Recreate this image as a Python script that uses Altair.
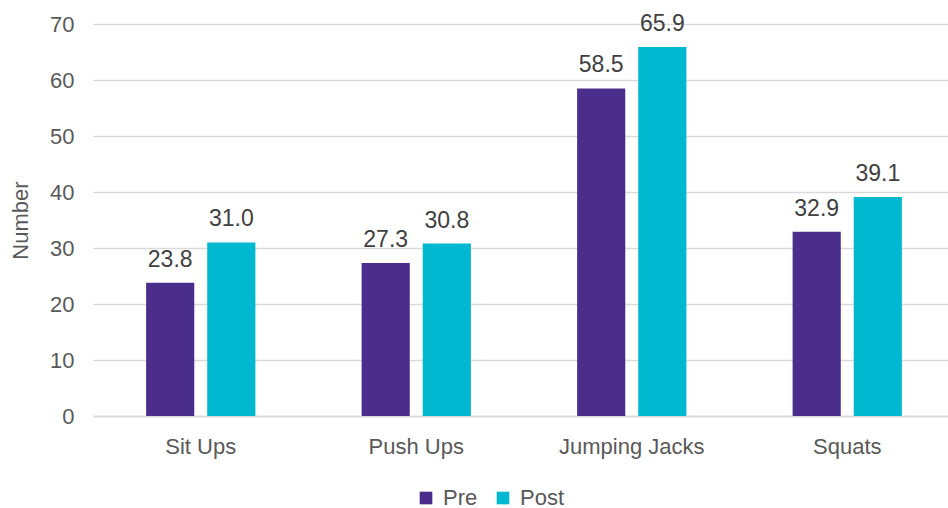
import altair as alt
import pandas as pd

exercises = ["Sit Ups", "Push Ups", "Jumping Jacks", "Squats"]
phases = ["Pre", "Post"]
pre_values = [23.8, 27.3, 58.5, 32.9]
post_values = [31.0, 30.8, 65.9, 39.1]
y_ticks = [0, 10, 20, 30, 40, 50, 60, 70]

rows = []
for ex, a, b in zip(exercises, pre_values, post_values):
    rows.append({"Exercise": ex, "Phase": "Pre", "Value": a})
    rows.append({"Exercise": ex, "Phase": "Post", "Value": b})
df = pd.DataFrame(rows)

FONT = "Liberation Sans"
colors = ["#4B2E8C", "#00B8D0"]

x = alt.X(
    "Exercise:N",
    sort=exercises,
    title=None,
    # the category band runs a little past the right edge of the gridlines
    scale=alt.Scale(range=[0, 862], paddingInner=0.493, paddingOuter=0.2465),
    axis=alt.Axis(
        labelAngle=0, labelFont=FONT, labelFontSize=22, labelColor="#595959",
        labelPadding=20, ticks=False, domainColor="#D9D9D9", domainWidth=1.5,
        grid=False,
    ),
)
xoff = alt.XOffset(
    "Phase:N", sort=phases,
    scale=alt.Scale(paddingInner=0.212, paddingOuter=0),
)
y = alt.Y(
    "Value:Q",
    title="Number",
    scale=alt.Scale(domain=[0, 70], nice=False),
    axis=alt.Axis(
        values=y_ticks, labelFont=FONT, labelFontSize=22, labelColor="#595959",
        labelPadding=19, ticks=False, domain=False, gridColor="#D9D9D9",
        gridWidth=1.5, titleFont=FONT, titleFontSize=22, titleColor="#595959",
        titleFontWeight="normal", titlePadding=17,
    ),
)

bars = alt.Chart(df).mark_bar().encode(
    x=x, xOffset=xoff, y=y,
    color=alt.Color(
        "Phase:N", sort=phases,
        scale=alt.Scale(domain=phases, range=colors),
        legend=alt.Legend(
            title=None, orient="none", direction="horizontal",
            legendX=322, legendY=463, symbolType="square", symbolSize=160,
            symbolStrokeWidth=0, labelFont=FONT, labelFontSize=22,
            labelColor="#595959", columnPadding=14, labelOffset=6,
        ),
    ),
)

labels = alt.Chart(df).mark_text(
    font=FONT, fontSize=23, color="#404040", baseline="alphabetic", dy=-16,
).encode(
    x=alt.X("Exercise:N", sort=exercises),
    xOffset=alt.XOffset("Phase:N", sort=phases),
    y="Value:Q",
    text=alt.Text("Value:Q", format=".1f"),
)

chart = (bars + labels).properties(
    width=855, height=392,
    autosize=alt.AutoSizeParams(type="none"),
    padding={"left": 93, "top": 24, "right": 0, "bottom": 92},
    background="white",
).configure_view(stroke=None)

chart.save("out.html", embed_options={"renderer": "svg", "actions": False})
